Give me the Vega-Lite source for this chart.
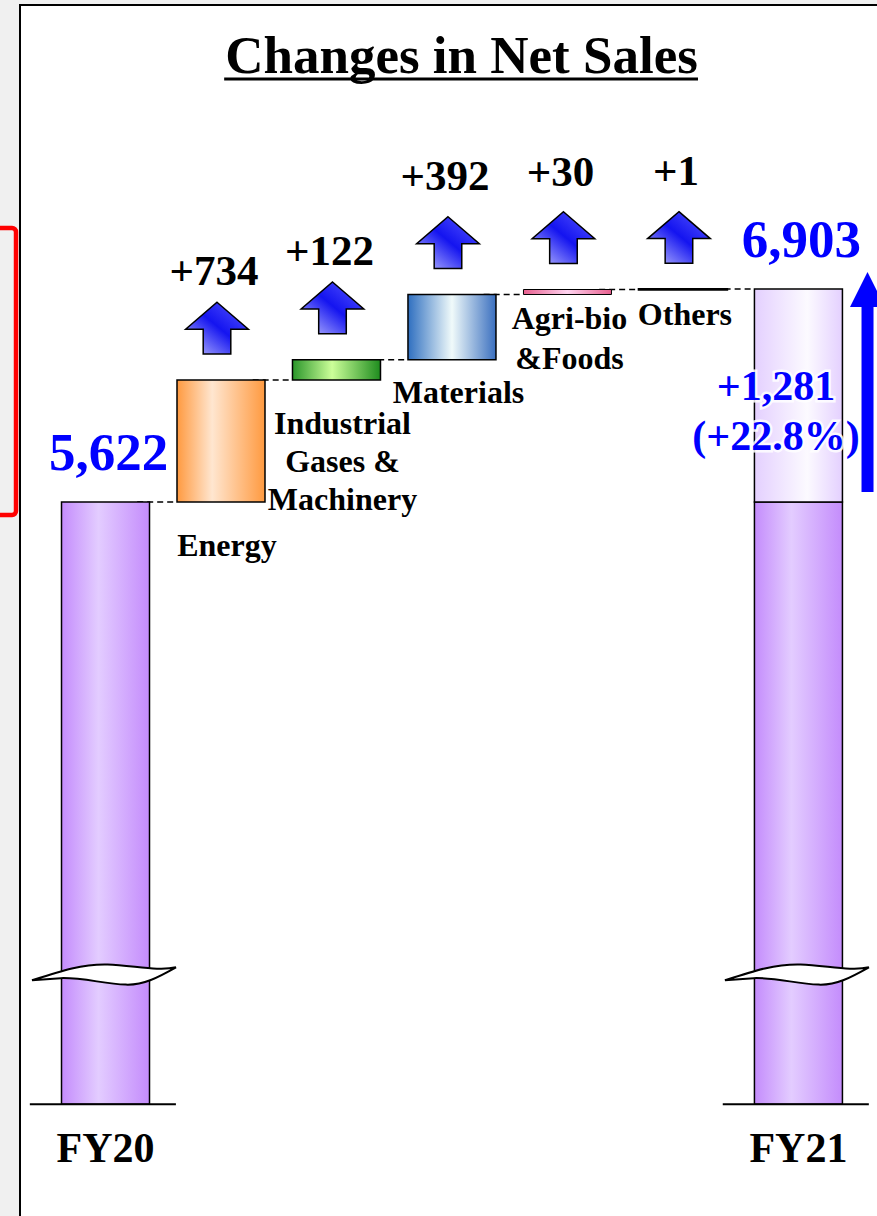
{
  "$schema": "https://vega.github.io/schema/vega-lite/v6.json",
  "width": 862,
  "height": 1221,
  "autosize": {"type": "none"},
  "padding": {"left": 20, "top": 5, "right": -5, "bottom": -10},
  "background": "#f0f0f0",
  "config": {
    "view": {"stroke": "#000000", "strokeWidth": 2, "fill": "#ffffff"},
    "text": {"font": "Liberation Serif", "fontWeight": "bold", "baseline": "alphabetic", "align": "center"}
  },
  "datasets": {
    "steps": [
      {"cat": "Energy", "start": 5622, "end": 6356, "delta": "+734", "name": "Energy"},
      {"cat": "Industrial", "start": 6356, "end": 6478, "delta": "+122", "name": "Industrial\nGases &\nMachinery"},
      {"cat": "Materials", "start": 6478, "end": 6870, "delta": "+392", "name": "Materials"},
      {"cat": "Agri", "start": 6870, "end": 6900, "delta": "+30", "name": "Agri-bio\n&Foods"},
      {"cat": "Others", "start": 6900, "end": 6901, "delta": "+1", "name": "Others"}
    ],
    "totals": [
      {"cat": "FY20", "value": 5622, "base": 5622, "label": "5,622", "year": "FY20"},
      {"cat": "FY21", "value": 6903, "base": 5622, "label": "6,903", "year": "FY21", "change": "+1,281\n(+22.8%)"}
    ],
    "links": [
      {"from": "FY20", "to": "Energy", "v": 5622},
      {"from": "Energy", "to": "Industrial", "v": 6356},
      {"from": "Industrial", "to": "Materials", "v": 6478},
      {"from": "Materials", "to": "Agri", "v": 6870},
      {"from": "Agri", "to": "Others", "v": 6900},
      {"from": "Others", "to": "FY21", "v": 6903}
    ],
    "blank": [{}]
  },
  "layer": [
    {
      "data": {"name": "links"},
      "mark": {"type": "rule", "strokeDash": [6, 4], "strokeWidth": 1.5, "color": "#000000"},
      "encoding": {
        "x": {"field": "from", "type": "nominal", "bandPosition": 0.86, "axis": null, "scale": {"domain": ["FY20", "Energy", "Industrial", "Materials", "Agri", "Others", "FY21"], "paddingInner": 0.238, "paddingOuter": 0.351, "align": 0.512}},
        "x2": {"field": "to", "bandPosition": 0},
        "y": {"field": "v", "type": "quantitative", "axis": null, "scale": {"domain": [1268, 8611], "nice": false, "zero": false}}
      }
    },
    {
      "data": {"name": "totals"},
      "mark": {"type": "bar", "stroke": "#000000", "strokeWidth": 1.5, "fill": {"gradient": "linear", "x1": 0, "y1": 0, "x2": 1, "y2": 0, "stops": [{"offset": 0, "color": "#c48cfc"}, {"offset": 0.42, "color": "#e3ccff"}, {"offset": 1, "color": "#c48cfc"}]}},
      "encoding": {
        "x": {"field": "cat", "type": "nominal", "axis": null, "scale": {"domain": ["FY20", "Energy", "Industrial", "Materials", "Agri", "Others", "FY21"], "paddingInner": 0.238, "paddingOuter": 0.351, "align": 0.512}},
        "y": {"field": "base", "type": "quantitative", "axis": null, "scale": {"domain": [1268, 8611], "nice": false, "zero": false}},
        "y2": {"datum": 2000}
      }
    },
    {
      "data": {"name": "totals"},
      "transform": [{"filter": "datum.cat === 'FY21'"}],
      "mark": {"type": "bar", "stroke": "#000000", "strokeWidth": 1.5, "fill": {"gradient": "linear", "x1": 0, "y1": 0, "x2": 1, "y2": 0, "stops": [{"offset": 0, "color": "#e4d0ff"}, {"offset": 0.6, "color": "#fcfaff"}, {"offset": 1, "color": "#e4d0ff"}]}},
      "encoding": {
        "x": {"field": "cat", "type": "nominal", "axis": null, "scale": {"domain": ["FY20", "Energy", "Industrial", "Materials", "Agri", "Others", "FY21"], "paddingInner": 0.238, "paddingOuter": 0.351, "align": 0.512}},
        "y": {"field": "value", "type": "quantitative", "axis": null, "scale": {"domain": [1268, 8611], "nice": false, "zero": false}},
        "y2": {"field": "base"}
      }
    },
    {
      "data": {"name": "steps"},
      "transform": [{"filter": "datum.cat === 'Energy'"}],
      "mark": {"type": "bar", "stroke": "#000000", "strokeWidth": 1.5, "fill": {"gradient": "linear", "x1": 0, "y1": 0, "x2": 1, "y2": 0, "stops": [{"offset": 0, "color": "#ff9a40"}, {"offset": 0.4, "color": "#ffe6d0"}, {"offset": 1, "color": "#ff9a40"}]}},
      "encoding": {
        "x": {"field": "cat", "type": "nominal", "axis": null, "scale": {"domain": ["FY20", "Energy", "Industrial", "Materials", "Agri", "Others", "FY21"], "paddingInner": 0.238, "paddingOuter": 0.351, "align": 0.512}},
        "y": {"field": "end", "type": "quantitative", "axis": null, "scale": {"domain": [1268, 8611], "nice": false, "zero": false}},
        "y2": {"field": "start"}
      }
    },
    {
      "data": {"name": "steps"},
      "transform": [{"filter": "datum.cat === 'Industrial'"}],
      "mark": {"type": "bar", "stroke": "#000000", "strokeWidth": 1.5, "fill": {"gradient": "linear", "x1": 0, "y1": 0, "x2": 1, "y2": 0, "stops": [{"offset": 0, "color": "#2a962a"}, {"offset": 0.45, "color": "#ccff99"}, {"offset": 1, "color": "#1e8c1e"}]}},
      "encoding": {
        "x": {"field": "cat", "type": "nominal", "axis": null, "scale": {"domain": ["FY20", "Energy", "Industrial", "Materials", "Agri", "Others", "FY21"], "paddingInner": 0.238, "paddingOuter": 0.351, "align": 0.512}},
        "y": {"field": "end", "type": "quantitative", "axis": null, "scale": {"domain": [1268, 8611], "nice": false, "zero": false}},
        "y2": {"field": "start"}
      }
    },
    {
      "data": {"name": "steps"},
      "transform": [{"filter": "datum.cat === 'Materials'"}],
      "mark": {"type": "bar", "stroke": "#000000", "strokeWidth": 1.5, "fill": {"gradient": "linear", "x1": 0, "y1": 0, "x2": 1, "y2": 0, "stops": [{"offset": 0, "color": "#2f6fc0"}, {"offset": 0.5, "color": "#f0fafa"}, {"offset": 1, "color": "#3a6fbf"}]}},
      "encoding": {
        "x": {"field": "cat", "type": "nominal", "axis": null, "scale": {"domain": ["FY20", "Energy", "Industrial", "Materials", "Agri", "Others", "FY21"], "paddingInner": 0.238, "paddingOuter": 0.351, "align": 0.512}},
        "y": {"field": "end", "type": "quantitative", "axis": null, "scale": {"domain": [1268, 8611], "nice": false, "zero": false}},
        "y2": {"field": "start"}
      }
    },
    {
      "data": {"name": "steps"},
      "transform": [{"filter": "datum.cat === 'Agri'"}],
      "mark": {"type": "bar", "stroke": "#000000", "strokeWidth": 1, "fill": {"gradient": "linear", "x1": 0, "y1": 0, "x2": 1, "y2": 0, "stops": [{"offset": 0, "color": "#e8608f"}, {"offset": 0.5, "color": "#ffd4f0"}, {"offset": 1, "color": "#e8608f"}]}},
      "encoding": {
        "x": {"field": "cat", "type": "nominal", "axis": null, "scale": {"domain": ["FY20", "Energy", "Industrial", "Materials", "Agri", "Others", "FY21"], "paddingInner": 0.238, "paddingOuter": 0.351, "align": 0.512}},
        "y": {"field": "end", "type": "quantitative", "axis": null, "scale": {"domain": [1268, 8611], "nice": false, "zero": false}},
        "y2": {"field": "start"}
      }
    },
    {
      "data": {"name": "steps"},
      "transform": [{"filter": "datum.cat === 'Others'"}],
      "mark": {"type": "bar", "stroke": "#000000", "strokeWidth": 2.5, "fill": "#000000"},
      "encoding": {
        "x": {"field": "cat", "type": "nominal", "axis": null, "scale": {"domain": ["FY20", "Energy", "Industrial", "Materials", "Agri", "Others", "FY21"], "paddingInner": 0.238, "paddingOuter": 0.351, "align": 0.512}},
        "y": {"field": "end", "type": "quantitative", "axis": null, "scale": {"domain": [1268, 8611], "nice": false, "zero": false}},
        "y2": {"field": "start"}
      }
    },
    {
      "data": {"name": "totals"},
      "mark": {"type": "rule", "strokeWidth": 2, "color": "#000000"},
      "encoding": {
        "x": {"field": "cat", "type": "nominal", "bandPosition": -0.36, "axis": null, "scale": {"domain": ["FY20", "Energy", "Industrial", "Materials", "Agri", "Others", "FY21"], "paddingInner": 0.238, "paddingOuter": 0.351, "align": 0.512}},
        "x2": {"field": "cat", "bandPosition": 1.3},
        "y": {"datum": 2000, "type": "quantitative", "axis": null, "scale": {"domain": [1268, 8611], "nice": false, "zero": false}}
      }
    },
    {
      "data": {"name": "totals"},
      "mark": {"type": "point", "filled": true, "opacity": 1, "fill": "#ffffff", "stroke": "#000000", "strokeWidth": 2, "size": 20736, "xOffset": -1.5,
        "shape": "M-1,0.1C-0.6,-0.03,-0.3,-0.13,0.05,-0.12C0.4,-0.11,0.75,-0.02,1,-0.08C0.75,0.06,0.55,0.17,0.3,0.16C0,0.15,-0.3,0.06,-0.6,0.07C-0.8,0.08,-0.9,0.09,-1,0.1Z"},
      "encoding": {
        "x": {"field": "cat", "type": "nominal", "axis": null, "scale": {"domain": ["FY20", "Energy", "Industrial", "Materials", "Agri", "Others", "FY21"], "paddingInner": 0.238, "paddingOuter": 0.351, "align": 0.512}},
        "y": {"datum": 2789, "type": "quantitative", "axis": null, "scale": {"domain": [1268, 8611], "nice": false, "zero": false}}
      }
    },
    {
      "data": {"name": "steps"},
      "mark": {"type": "point", "filled": true, "opacity": 1, "stroke": "#000000", "strokeWidth": 1.5, "size": 3931, "xOffset": -4, "yOffset": -52,
        "shape": "M0,-0.82L1,0.04L0.44,0.04L0.44,0.83L-0.44,0.83L-0.44,0.04L-1,0.04Z",
        "fill": {"gradient": "linear", "x1": 1, "y1": 0, "x2": 0, "y2": 1, "stops": [{"offset": 0, "color": "#5c5cff"}, {"offset": 0.48, "color": "#1414f0"}, {"offset": 1, "color": "#c4c4ff"}]}},
      "encoding": {
        "x": {"field": "cat", "type": "nominal", "axis": null, "scale": {"domain": ["FY20", "Energy", "Industrial", "Materials", "Agri", "Others", "FY21"], "paddingInner": 0.238, "paddingOuter": 0.351, "align": 0.512}},
        "y": {"field": "end", "type": "quantitative", "axis": null, "scale": {"domain": [1268, 8611], "nice": false, "zero": false}}
      }
    },
    {
      "data": {"name": "steps"},
      "transform": [{"filter": "datum.cat === 'Energy' || datum.cat === 'Industrial'"}],
      "mark": {"type": "text", "fontSize": 43, "dy": -95, "xOffset": -7, "color": "#000000"},
      "encoding": {
        "x": {"field": "cat", "type": "nominal", "axis": null, "scale": {"domain": ["FY20", "Energy", "Industrial", "Materials", "Agri", "Others", "FY21"], "paddingInner": 0.238, "paddingOuter": 0.351, "align": 0.512}},
        "y": {"field": "end", "type": "quantitative", "axis": null, "scale": {"domain": [1268, 8611], "nice": false, "zero": false}},
        "text": {"field": "delta"}
      }
    },
    {
      "data": {"name": "steps"},
      "transform": [{"filter": "datum.cat !== 'Energy' && datum.cat !== 'Industrial'"}],
      "mark": {"type": "text", "fontSize": 43, "dy": -104, "xOffset": -7, "color": "#000000"},
      "encoding": {
        "x": {"field": "cat", "type": "nominal", "axis": null, "scale": {"domain": ["FY20", "Energy", "Industrial", "Materials", "Agri", "Others", "FY21"], "paddingInner": 0.238, "paddingOuter": 0.351, "align": 0.512}},
        "y": {"field": "end", "type": "quantitative", "axis": null, "scale": {"domain": [1268, 8611], "nice": false, "zero": false}},
        "text": {"field": "delta"}
      }
    },
    {
      "data": {"name": "steps"},
      "transform": [{"filter": "datum.cat === 'Energy' || datum.cat === 'Industrial'"}],
      "mark": {"type": "text", "fontSize": 32, "dy": 54, "xOffset": 6, "lineBreak": "\n", "lineHeight": 38, "color": "#000000"},
      "encoding": {
        "x": {"field": "cat", "type": "nominal", "axis": null, "scale": {"domain": ["FY20", "Energy", "Industrial", "Materials", "Agri", "Others", "FY21"], "paddingInner": 0.238, "paddingOuter": 0.351, "align": 0.512}},
        "y": {"field": "start", "type": "quantitative", "axis": null, "scale": {"domain": [1268, 8611], "nice": false, "zero": false}},
        "text": {"field": "name"}
      }
    },
    {
      "data": {"name": "steps"},
      "transform": [{"filter": "datum.cat === 'Materials'"}],
      "mark": {"type": "text", "fontSize": 32, "dy": 43, "xOffset": 6.5, "color": "#000000"},
      "encoding": {
        "x": {"field": "cat", "type": "nominal", "axis": null, "scale": {"domain": ["FY20", "Energy", "Industrial", "Materials", "Agri", "Others", "FY21"], "paddingInner": 0.238, "paddingOuter": 0.351, "align": 0.512}},
        "y": {"field": "start", "type": "quantitative", "axis": null, "scale": {"domain": [1268, 8611], "nice": false, "zero": false}},
        "text": {"field": "name"}
      }
    },
    {
      "data": {"name": "steps"},
      "transform": [{"filter": "datum.cat === 'Agri' || datum.cat === 'Others'"}],
      "mark": {"type": "text", "fontSize": 32, "dy": 35, "xOffset": 2, "lineBreak": "\n", "lineHeight": 40, "color": "#000000"},
      "encoding": {
        "x": {"field": "cat", "type": "nominal", "axis": null, "scale": {"domain": ["FY20", "Energy", "Industrial", "Materials", "Agri", "Others", "FY21"], "paddingInner": 0.238, "paddingOuter": 0.351, "align": 0.512}},
        "y": {"field": "start", "type": "quantitative", "axis": null, "scale": {"domain": [1268, 8611], "nice": false, "zero": false}},
        "text": {"field": "name"}
      }
    },
    {
      "data": {"name": "totals"},
      "mark": {"type": "text", "fontSize": 53, "dy": -32, "xOffset": 3, "color": "#0000ff"},
      "encoding": {
        "x": {"field": "cat", "type": "nominal", "axis": null, "scale": {"domain": ["FY20", "Energy", "Industrial", "Materials", "Agri", "Others", "FY21"], "paddingInner": 0.238, "paddingOuter": 0.351, "align": 0.512}},
        "y": {"field": "value", "type": "quantitative", "axis": null, "scale": {"domain": [1268, 8611], "nice": false, "zero": false}},
        "text": {"field": "label"}
      }
    },
    {
      "data": {"name": "totals"},
      "transform": [{"filter": "datum.cat === 'FY21'"}],
      "mark": {"type": "text", "fontSize": 42, "dy": 111, "xOffset": -22.5, "lineBreak": "\n", "lineHeight": 50, "color": "#ffffff", "stroke": "#ffffff", "strokeWidth": 5, "strokeOpacity": 0.85},
      "encoding": {
        "x": {"field": "cat", "type": "nominal", "axis": null, "scale": {"domain": ["FY20", "Energy", "Industrial", "Materials", "Agri", "Others", "FY21"], "paddingInner": 0.238, "paddingOuter": 0.351, "align": 0.512}},
        "y": {"field": "value", "type": "quantitative", "axis": null, "scale": {"domain": [1268, 8611], "nice": false, "zero": false}},
        "text": {"field": "change"}
      }
    },
    {
      "data": {"name": "totals"},
      "transform": [{"filter": "datum.cat === 'FY21'"}],
      "mark": {"type": "text", "fontSize": 42, "dy": 111, "xOffset": -22.5, "lineBreak": "\n", "lineHeight": 50, "color": "#0000ff"},
      "encoding": {
        "x": {"field": "cat", "type": "nominal", "axis": null, "scale": {"domain": ["FY20", "Energy", "Industrial", "Materials", "Agri", "Others", "FY21"], "paddingInner": 0.238, "paddingOuter": 0.351, "align": 0.512}},
        "y": {"field": "value", "type": "quantitative", "axis": null, "scale": {"domain": [1268, 8611], "nice": false, "zero": false}},
        "text": {"field": "change"}
      }
    },
    {
      "data": {"name": "totals"},
      "transform": [{"filter": "datum.cat === 'FY21'"}],
      "mark": {"type": "rule", "strokeWidth": 12, "color": "#0000ff", "yOffset": -10, "y2Offset": 18},
      "encoding": {
        "x": {"field": "cat", "type": "nominal", "bandPosition": 1.285, "axis": null, "scale": {"domain": ["FY20", "Energy", "Industrial", "Materials", "Agri", "Others", "FY21"], "paddingInner": 0.238, "paddingOuter": 0.351, "align": 0.512}},
        "y": {"field": "base", "type": "quantitative", "axis": null, "scale": {"domain": [1268, 8611], "nice": false, "zero": false}},
        "y2": {"field": "value"}
      }
    },
    {
      "data": {"name": "totals"},
      "transform": [{"filter": "datum.cat === 'FY21'"}],
      "mark": {"type": "point", "filled": true, "opacity": 1, "fill": "#0000ff", "strokeWidth": 0, "size": 1225, "yOffset": 0.5, "shape": "M0,-1L1,1L-1,1Z"},
      "encoding": {
        "x": {"field": "cat", "type": "nominal", "bandPosition": 1.285, "axis": null, "scale": {"domain": ["FY20", "Energy", "Industrial", "Materials", "Agri", "Others", "FY21"], "paddingInner": 0.238, "paddingOuter": 0.351, "align": 0.512}},
        "y": {"field": "value", "type": "quantitative", "axis": null, "scale": {"domain": [1268, 8611], "nice": false, "zero": false}}
      }
    },
    {
      "data": {"name": "totals"},
      "mark": {"type": "text", "fontSize": 42, "dy": 58, "color": "#000000"},
      "encoding": {
        "x": {"field": "cat", "type": "nominal", "axis": null, "scale": {"domain": ["FY20", "Energy", "Industrial", "Materials", "Agri", "Others", "FY21"], "paddingInner": 0.238, "paddingOuter": 0.351, "align": 0.512}},
        "y": {"datum": 2000, "type": "quantitative", "axis": null, "scale": {"domain": [1268, 8611], "nice": false, "zero": false}},
        "text": {"field": "year"}
      }
    },
    {
      "data": {"name": "blank"},
      "mark": {"type": "text", "text": "Changes in Net Sales", "fontSize": 53, "dx": 9.5, "dy": -6, "color": "#000000"},
      "encoding": {
        "x": {"datum": "Materials", "type": "nominal", "axis": null, "scale": {"domain": ["FY20", "Energy", "Industrial", "Materials", "Agri", "Others", "FY21"], "paddingInner": 0.238, "paddingOuter": 0.351, "align": 0.512}},
        "y": {"datum": 8166, "type": "quantitative", "axis": null, "scale": {"domain": [1268, 8611], "nice": false, "zero": false}}
      }
    },
    {
      "data": {"name": "blank"},
      "mark": {"type": "rule", "strokeWidth": 3, "color": "#000000"},
      "encoding": {
        "x": {"datum": "Energy", "type": "nominal", "bandPosition": 0.536, "axis": null, "scale": {"domain": ["FY20", "Energy", "Industrial", "Materials", "Agri", "Others", "FY21"], "paddingInner": 0.238, "paddingOuter": 0.351, "align": 0.512}},
        "x2": {"datum": "Others", "bandPosition": 0.671},
        "y": {"datum": 8166, "type": "quantitative", "axis": null, "scale": {"domain": [1268, 8611], "nice": false, "zero": false}}
      }
    },
    {
      "data": {"name": "blank"},
      "mark": {"type": "rect", "fill": "transparent", "stroke": "#ff0000", "strokeWidth": 4.5, "cornerRadius": 4},
      "encoding": {
        "x": {"datum": "FY20", "type": "nominal", "bandPosition": -0.756, "axis": null, "scale": {"domain": ["FY20", "Energy", "Industrial", "Materials", "Agri", "Others", "FY21"], "paddingInner": 0.238, "paddingOuter": 0.351, "align": 0.512}},
        "x2": {"datum": "FY20", "bandPosition": -0.517},
        "y": {"datum": 7270, "type": "quantitative", "axis": null, "scale": {"domain": [1268, 8611], "nice": false, "zero": false}},
        "y2": {"datum": 5544}
      }
    }
  ]
}
